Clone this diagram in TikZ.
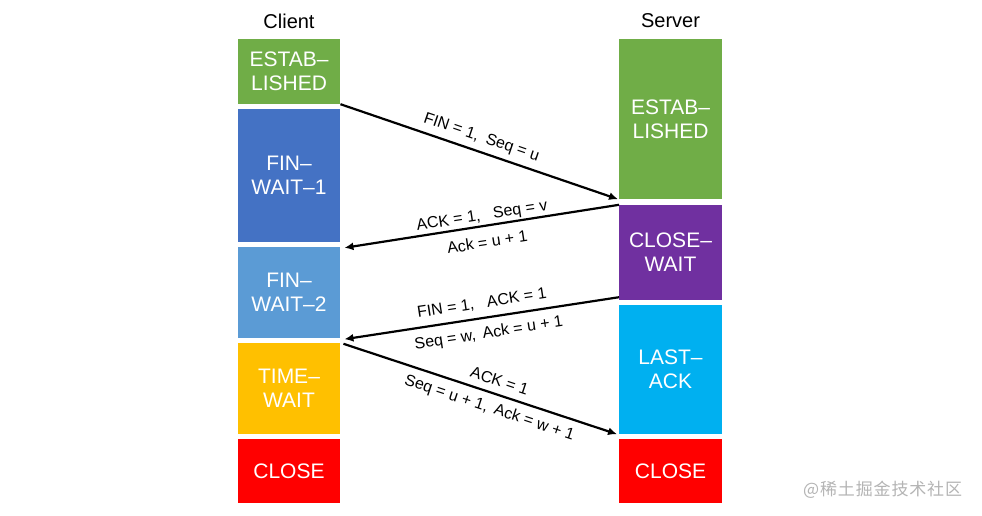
\documentclass[tikz,border=0pt]{standalone}
\usepackage{fontspec}
\setmainfont{Liberation Sans}
\newfontfamily\cjkfont[LetterSpace=5]{Noto Sans CJK SC}
\usetikzlibrary{arrows.meta,calc}
\definecolor{cgreen}{HTML}{70AD47}
\definecolor{cblue}{HTML}{4472C4}
\definecolor{clblue}{HTML}{5B9BD5}
\definecolor{cgold}{HTML}{FFC000}
\definecolor{cred}{HTML}{FF0000}
\definecolor{cpurple}{HTML}{7030A0}
\definecolor{ccyan}{HTML}{00B0F0}
\definecolor{wmgray}{HTML}{B4B4B4}
\begin{document}
\begin{tikzpicture}[x=1pt,y=-1pt,
  state/.style={rectangle, minimum width=102.5pt, inner sep=0pt, text=white,
    font=\fontsize{21}{24}\selectfont, align=center},
  title/.style={font=\fontsize{20}{24}\selectfont, inner sep=0pt},
  msg/.style={draw=black, line width=2.2pt, -{Latex[length=9pt,width=8pt]}},
  lbl/.style={sloped, font=\fontsize{16}{18}\selectfont, inner sep=0pt,
    text height=11.5pt, text depth=0pt},
]
\path[fill=white] (0,0) rectangle (982,516);

\node[title] (client) at (289,21) {Client};
\node[title] (server) at (670.5,21) {Server};

% client states
\node[state, fill=cgreen,  minimum height=65pt] (cE)  at (289,71.5) {ESTAB–\\LISHED};
\node[state, fill=cblue,   minimum height=133pt] (cF1) at (289,175.5) {FIN–\\WAIT–1};
\node[state, fill=clblue,  minimum height=91pt] (cF2) at (289,292.5) {FIN–\\WAIT–2};
\node[state, fill=cgold,   minimum height=91pt] (cT)  at (289,388.5) {TIME–\\WAIT};
\node[state, fill=cred,    minimum height=64pt] (cC)  at (289,471) {CLOSE};

% server states
\node[state, fill=cgreen,  minimum height=160pt] (sE)  at (670.5,119) {ESTAB–\\LISHED};
\node[state, fill=cpurple, minimum height=95pt] (sCW) at (670.5,252.5) {CLOSE–\\WAIT};
\node[state, fill=ccyan,   minimum height=129pt] (sLA) at (670.5,369.5) {LAST–\\ACK};
\node[state, fill=cred,    minimum height=64pt] (sC)  at (670.5,471) {CLOSE};

% coordinates for arrow ends
\coordinate (a1s) at (cE.south east);
\coordinate (a1e) at ([xshift=-1pt]sE.south west);
\coordinate (a2s) at (sCW.north west);
\coordinate (a2e) at ([xshift=4pt,yshift=-1pt]cF2.north east);
\coordinate (a3s) at ([yshift=3pt]sCW.south west);
\coordinate (a3e) at ([xshift=4pt,yshift=-1pt]cF2.south east);
\coordinate (a4s) at ([xshift=3pt,yshift=-1pt]cT.north east);
\coordinate (a4e) at ([xshift=-2pt]sLA.south west);

% messages
\draw[msg] (a1s) -- (a1e);
\draw[msg] (a2s) -- (a2e);
\draw[msg] (a3s) -- (a3e);
\draw[msg] (a4s) -- (a4e);

% labels
\path ([yshift=16.5pt]a1s) -- ([yshift=16.5pt]a1e)
  node[lbl, pos=0.51] (l1) {FIN = 1,\hspace{8pt}Seq = u};
\path ([yshift=11.6pt]a2e) -- ([yshift=11.6pt]a2s)
  node[lbl, pos=0.5] (l2a) {ACK = 1,\hspace{13pt}Seq = v};
\path ([yshift=-16.5pt]a2e) -- ([yshift=-16.5pt]a2s)
  node[lbl, pos=0.52] (l2b) {Ack = u + 1};
\path ([yshift=16pt]a3e) -- ([yshift=16pt]a3s)
  node[lbl, pos=0.5] (l3a) {FIN = 1,\hspace{13pt}ACK = 1};
\path ([yshift=-15pt]a3e) -- ([yshift=-15pt]a3s)
  node[lbl, pos=0.525] (l3b) {Seq = w,\hspace{7pt}Ack = u + 1};
\path ([yshift=14.7pt]a4s) -- ([yshift=14.7pt]a4e)
  node[lbl, pos=0.571] (l4a) {ACK = 1};
\path ([yshift=-14.7pt]a4s) -- ([yshift=-14.7pt]a4e)
  node[lbl, pos=0.535] (l4b) {Seq = u + 1,\hspace{7pt}Ack = w + 1};

% watermark
\node[anchor=west, inner sep=0pt, text=wmgray, font=\cjkfont\fontsize{17}{20}\selectfont]
  (wm) at (803,490) {@稀土掘金技术社区};
\end{tikzpicture}
\end{document}
